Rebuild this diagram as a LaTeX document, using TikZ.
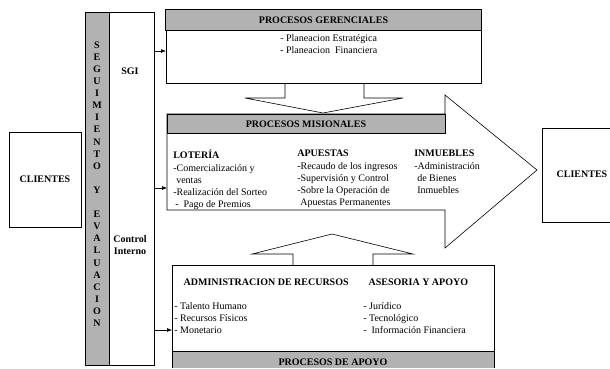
\documentclass[tikz,border=0pt]{standalone}
\usepackage{fontspec}
\setmainfont{Liberation Serif}
\usetikzlibrary{positioning,arrows.meta}

\tikzset{
  caja/.style={draw, inner sep=0pt},
  gris/.style={fill=black!30, draw},
  titulo/.style={font=\fontsize{10}{12.2}\selectfont\bfseries},
  lista/.style={align=left, anchor=north west, inner sep=0pt},
  flecha/.style={-{Latex[length=5pt,width=4pt]}},
}

\begin{document}
\begin{tikzpicture}[x=1pt, y=-1pt, font=\fontsize{10}{12.2}\selectfont, line width=0.6pt]
\useasboundingbox (0,0) rectangle (610,368);

% clientes a los lados
\node[caja, titulo, minimum width=72pt, minimum height=95pt] (cliA) at (45,179.5) {CLIENTES};
\draw (610,128) -| (542,222) -- (610,222);
\node[titulo] (cliB) at (582,174) {CLIENTES};

% columna de seguimiento
\filldraw[gris] (85,12) rectangle (109,365);
\node[caja, minimum width=69pt, minimum height=353pt] (col) at (119.5,188.5) {};
\foreach \l [count=\i from 0] in {S,E,G,U,I,M,I,E,N,T,O,{},Y,{},E,V,A,L,U,A,C,I,O,N}
  \node[font=\fontsize{10}{10}\selectfont\bfseries] (l\i) at (97,45+12.1*\i) {\l};
\node[titulo] (sgi) at (130,71) {SGI};
\node[titulo, align=center] (ci) at (130,245) {Control\\Interno};

% procesos gerenciales
\node[caja, minimum width=315pt, minimum height=73pt] (ger) at (323.5,46.5) {};
\filldraw[gris] (ger.north west) rectangle (481,30);
\node[titulo] (gerT) at (323.5,20) {PROCESOS GERENCIALES};
\node[lista] (gerL) at (280,34) {- Planeacion Estratégica\\- Planeacion\ \ Financiera};
\draw (285,83) -- (285,98) -- (245,98) -- (323,113) -- (403,98) -- (364,98) -- (364,83);

% procesos misionales
\filldraw[fill=white] (167,114) -- (445,114) -- (445,95) -- (537,170) -- (445,248)
  -- (445,210) -- (167,210) -- cycle;
\filldraw[gris] (167,114) rectangle (445,133);
\node[titulo] (misT) at (306,124) {PROCESOS MISIONALES};
\node[lista] (lot) at (173,150) {\textbf{LOTERÍA}\\-Comercialización y\\\hspace*{3pt}ventas\\-Realización del Sorteo\\\hspace*{2pt}-\ \ Pago de Premios};
\node[lista] (apu) at (297,150) {\textbf{APUESTAS}\\-Recaudo de los ingresos\\-Supervisión y Control\\-Sobre la Operación de\\\hspace*{3pt}Apuestas Permanentes};
\node[lista] (inm) at (414,150) {\textbf{INMUEBLES}\\-Administración\\\hspace*{3pt}de Bienes\\\hspace*{3pt}Inmuebles};

% procesos de apoyo
\draw (293,265) -- (293,254) -- (252,254) -- (332,234) -- (413,254) -- (373,254) -- (373,265);
\fill[black!30] (172,351) rectangle (494,368);
\draw (172,368) |- (494,265) -- (494,368);
\draw (172,351) -- (494,351);
\node[titulo, anchor=west] (admT) at (180,282) {ADMINISTRACION DE RECURSOS};
\node[titulo, anchor=west] (aseT) at (365,282) {ASESORIA Y APOYO};
\node[lista] (admL) at (174,302) {- Talento Humano\\- Recursos Físicos\\- Monetario};
\node[lista] (aseL) at (363,302) {- Jurídico\\- Tecnológico\\-\ \ Información Financiera};
\node[titulo] (apoT) at (333,362) {PROCESOS DE APOYO};

% flechas desde la columna
\coordinate (gerE) at (166,51);
\coordinate (misE) at (167,188);
\coordinate (apoE) at (172,330);
\draw[flecha] (col.east |- gerE) -- (gerE);
\draw[flecha] (col.east |- misE) -- (misE);
\draw[flecha] (col.east |- apoE) -- (apoE);
\end{tikzpicture}
\end{document}
